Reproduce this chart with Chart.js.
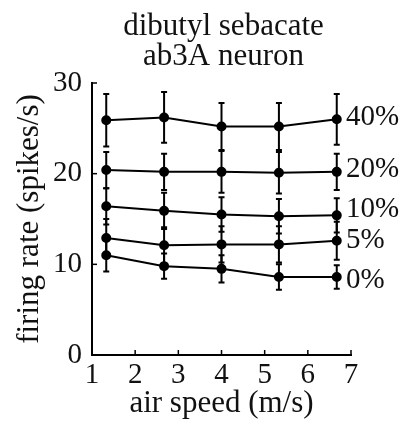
<!DOCTYPE html>
<html lang="en">
  <head>
    <meta charset="UTF-8" />
    <title>dibutyl sebacate</title>
    <style>
      body { margin: 0; background: #fff; }
      #wrap { width: 409px; height: 425px; }
    </style>
  </head>
  <body>
    <div id="wrap"><canvas id="myChart" width="409" height="425"></canvas></div>
    <script src="https://cdn.jsdelivr.net/npm/chart.js@4.4.1/dist/chart.umd.min.js"></script>
    <script>
      // air speed (m/s) of each measurement
      const speeds = [1.33, 2.67, 4, 5.33, 6.67];
      const concLabels = ["40%", "20%", "10%", "5%", "0%"];
      // mean firing rate (spikes/s)
      const rate40 = [25.9, 26.2, 25.2, 25.2, 26.0];
      const rate20 = [20.4, 20.2, 20.2, 20.1, 20.2];
      const rate10 = [16.4, 15.9, 15.5, 15.3, 15.4];
      const rate5 = [12.9, 12.1, 12.2, 12.2, 12.6];
      const rate0 = [11.0, 9.8, 9.5, 8.6, 8.6];
      // error bar half-lengths
      const err40 = [2.9, 2.8, 2.6, 2.6, 2.8];
      const err20 = [2.0, 2.0, 2.3, 2.3, 2.0];
      const err10 = [2.0, 2.0, 1.9, 1.9, 1.9];
      const err5 = [2.1, 2.0, 2.0, 2.0, 2.1];
      const err0 = [1.8, 1.4, 1.5, 1.4, 1.3];
      const xTicks = [1, 2, 3, 4, 5, 6, 7];
      const yTicks = [0, 10, 20, 30];

      const rates = [rate40, rate20, rate10, rate5, rate0];
      const errs = [err40, err20, err10, err5, err0];
      const serif = "'Liberation Serif', 'Times New Roman', serif";

      const datasets = rates.map((r, i) => ({
        label: concLabels[i],
        data: r.map((v, j) => ({ x: speeds[j], y: v })),
        borderColor: "#000",
        backgroundColor: "#000",
        borderWidth: 2,
        pointRadius: 4,
        pointBackgroundColor: "#000",
        tension: 0,
        errs: errs[i],
      }));

      const extras = {
        id: "extras",
        afterDatasetsDraw(chart) {
          const ctx = chart.ctx;
          const xs = chart.scales.x;
          const ys = chart.scales.y;
          const area = chart.chartArea;
          ctx.save();
          ctx.strokeStyle = "#000";
          ctx.fillStyle = "#111";
          // error bars
          ctx.lineWidth = 2;
          chart.data.datasets.forEach((ds) => {
            ds.data.forEach((p, j) => {
              const px = xs.getPixelForValue(p.x);
              const top = ys.getPixelForValue(p.y + ds.errs[j]);
              const bot = ys.getPixelForValue(p.y - ds.errs[j]);
              ctx.beginPath();
              ctx.moveTo(px, top);
              ctx.lineTo(px, bot);
              ctx.moveTo(px - 3, top);
              ctx.lineTo(px + 3, top);
              ctx.moveTo(px - 3, bot);
              ctx.lineTo(px + 3, bot);
              ctx.stroke();
            });
          });
          // inward tick marks
          ctx.lineWidth = 1.5;
          xTicks.forEach((t) => {
            const px = xs.getPixelForValue(t);
            ctx.beginPath();
            ctx.moveTo(px, area.bottom);
            ctx.lineTo(px, area.bottom - 5);
            ctx.stroke();
          });
          yTicks.forEach((t) => {
            const py = ys.getPixelForValue(t);
            ctx.beginPath();
            ctx.moveTo(area.left, py);
            ctx.lineTo(area.left + 5, py);
            ctx.stroke();
          });
          // series labels
          ctx.font = "29px " + serif;
          ctx.textAlign = "left";
          ctx.textBaseline = "middle";
          const nudge = [-2, -2, -6, 0, 3];
          chart.data.datasets.forEach((ds, i) => {
            const last = ds.data[ds.data.length - 1];
            ctx.fillText(ds.label, 346, ys.getPixelForValue(last.y) + nudge[i]);
          });
          // title
          ctx.font = "31px " + serif;
          ctx.textAlign = "center";
          ctx.textBaseline = "alphabetic";
          const cx = (area.left + area.right) / 2 + 2;
          ctx.fillText("dibutyl sebacate", cx, 35);
          ctx.fillText("ab3A neuron", cx, 65);
          ctx.restore();
        },
      };

      new Chart("myChart", {
        type: "line",
        data: { datasets: datasets },
        options: {
          responsive: false,
          animation: false,
          layout: { padding: { top: 83, right: 58, left: 0, bottom: 0 } },
          plugins: {
            legend: { display: false },
            tooltip: { enabled: false },
          },
          scales: {
            x: {
              type: "linear",
              min: 1,
              max: 7,
              grid: { display: false, drawTicks: false },
              border: { display: true, color: "#000", width: 2 },
              ticks: {
                stepSize: 1,
                color: "#111",
                padding: 3,
                font: { family: serif, size: 29 },
              },
              title: {
                display: true,
                text: "air speed (m/s)",
                color: "#111",
                padding: { top: 3, bottom: 3 },
                font: { family: serif, size: 31 },
              },
              afterFit(scale) {
                scale.height = 70;
              },
            },
            y: {
              min: 0,
              max: 30,
              grid: { display: false, drawTicks: false },
              border: { display: true, color: "#000", width: 2 },
              ticks: {
                stepSize: 10,
                color: "#111",
                padding: 10,
                font: { family: serif, size: 29 },
              },
              title: {
                display: true,
                text: "firing rate (spikes/s)",
                color: "#111",
                padding: { top: 11, bottom: 11 },
                font: { family: serif, size: 31 },
              },
              afterFit(scale) {
                scale.width = 92;
              },
            },
          },
        },
        plugins: [extras],
      });
    </script>
  </body>
</html>
